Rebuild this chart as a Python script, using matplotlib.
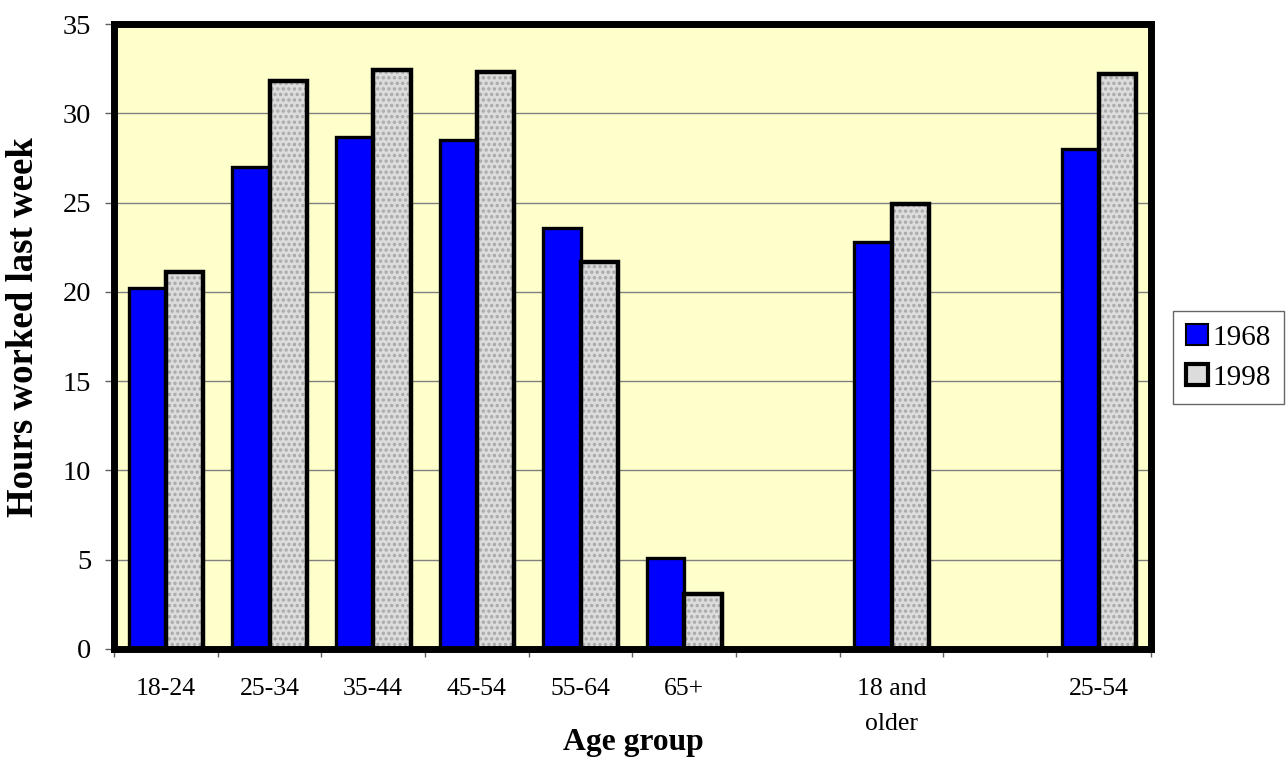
import numpy as np
import matplotlib
matplotlib.use('Agg')
import matplotlib.pyplot as plt
from matplotlib.patches import Patch

plt.rcParams['font.family'] = ['Liberation Serif', 'DejaVu Serif']
plt.rcParams['hatch.linewidth'] = 1.6

# data (empty slots are blank categories on the axis)
groups = ['18-24', '25-34', '35-44', '45-54', '55-64', '65+', '', '18 and\nolder', '', '25-54']
h1968 = [20.2, 27.0, 28.7, 28.5, 23.6, 5.1, np.nan, 22.8, np.nan, 28.0]
h1998 = [21.1, 31.8, 32.4, 32.3, 21.7, 3.1, np.nan, 24.9, np.nan, 32.2]

x = np.arange(len(groups))
a = np.array(h1968)
b = np.array(h1998)
ok = ~np.isnan(a)

fig = plt.figure(figsize=(12.88, 7.62), dpi=100)
ax = fig.add_axes([0.0885, 0.1483, 0.805, 0.8202])
ax.set_facecolor('#FFFFCC')

w = 0.36
ax.bar(x[ok] - w/2, a[ok], w, color='#0000FF', edgecolor='black', linewidth=2.4, zorder=3)
# gray dotted bars: hatch layer first, then the black outline
ax.bar(x[ok] + w/2, b[ok], w, color='#DCDCDC', edgecolor='#A8A8A8', hatch='...', linewidth=0, zorder=3)
ax.bar(x[ok] + w/2, b[ok], w, fill=False, edgecolor='black', linewidth=3.2, zorder=4)

ax.set_xlim(-0.5, len(groups) - 0.5)
ax.set_ylim(0, 35)
ax.set_yticks(np.arange(0, 36, 5))
ax.yaxis.grid(True, color='#808080', linewidth=1.0, zorder=1)
ax.set_axisbelow(True)

ax.set_xticks(x)
ax.set_xticklabels(groups, fontsize=18.5, linespacing=1.75)
ax.set_xticks(np.arange(-0.5, len(groups)), minor=True)
ax.tick_params(axis='x', which='major', length=0, pad=21)
ax.tick_params(axis='x', which='minor', length=6, width=1, color='#606060', direction='out')
ax.tick_params(axis='y', labelsize=20.5, length=6.5, width=1, color='#606060', pad=10)

for s in ax.spines.values():
    s.set_linewidth(5)
    s.set_color('black')
    s.set_zorder(5)

fig.text(0.0179, 0.571, 'Hours worked last week', rotation=90, fontsize=26.5,
         fontweight='bold', ha='center', va='center')
fig.text(0.4915, 0.0157, 'Age group', fontsize=22.8, fontweight='bold',
         ha='center', va='baseline')

handles = [Patch(facecolor='#0000FF', edgecolor='black', linewidth=1.5),
           Patch(facecolor='#DCDCDC', edgecolor='black', linewidth=3.0)]
leg = fig.legend(handles, ['1968', '1998'], loc='center left', bbox_to_anchor=(0.9107, 0.531),
                 fontsize=21, frameon=True, fancybox=False, edgecolor='#404040',
                 handlelength=0.75, handleheight=0.75, handletextpad=0.15,
                 borderpad=0.45, labelspacing=0.45, borderaxespad=0)
leg.get_frame().set_linewidth(1.0)

fig.savefig('out.png', dpi=100, facecolor='white')
